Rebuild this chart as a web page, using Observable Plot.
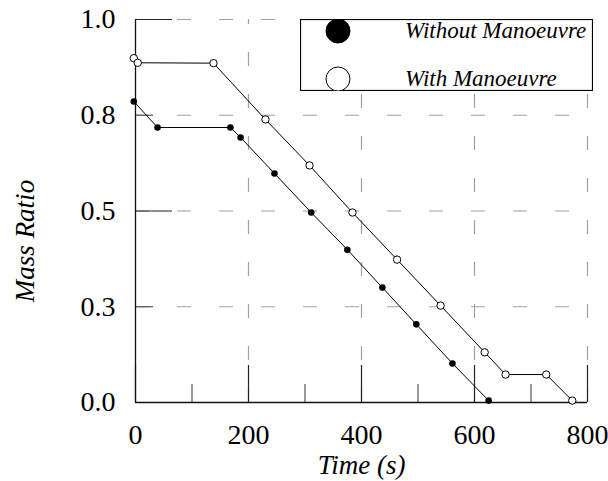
<!DOCTYPE html>
<html><head><meta charset="utf-8">
<script src="https://cdn.jsdelivr.net/npm/d3@7"></script>
<script src="https://cdn.jsdelivr.net/npm/@observablehq/plot@0.6"></script>
<style>
body{margin:0;background:#fff;}
#wrap{position:relative;width:608px;height:481px;}
#legend{position:absolute;left:300px;top:19px;}
</style>
</head><body><div id="wrap"></div>
<script>
// ---- data ----
const seriesNames = ["Without Manoeuvre", "With Manoeuvre"];
const timeWithout = [-3, 39, 168, 186, 246, 311, 375, 437, 497, 561, 625];
const massWithout = [0.786, 0.718, 0.718, 0.692, 0.598, 0.496, 0.399, 0.300, 0.204, 0.102, 0.005];
const timeWith = [-3, 4, 138, 230, 308, 384, 463, 540, 618, 655, 727, 773];
const massWith = [0.899, 0.887, 0.886, 0.739, 0.619, 0.496, 0.373, 0.253, 0.131, 0.073, 0.073, 0.005];

const xDomain = [0, 800];
const yDomain = [0, 1];
const xTickValues = [0, 200, 400, 600, 800];
const xTickLabels = ["0", "200", "400", "600", "800"];
const xMinorTicks = [100, 300, 500, 700];
const yTickValues = [0, 0.25, 0.5, 0.75, 1.0];
const yTickLabels = ["0.0", "0.3", "0.5", "0.8", "1.0"];
const yMajorTicks = [0, 0.5, 1.0];
const yMinorTicks = [0.25, 0.75];
const xGrid = [200, 400, 600, 800];
const yGrid = [0.25, 0.5, 0.75, 1.0];
const xTitle = "Time (s)";
const yTitle = "Mass Ratio";

// ---- build ----
const rowsWithout = timeWithout.map((t, i) => ({t, m: massWithout[i]}));
const rowsWith = timeWith.map((t, i) => ({t, m: massWith[i]}));

const W = 608, H = 481, mL = 135, mR = 21, mT = 19, mB = 79;
const fw = W - mL - mR, fh = H - mT - mB;
const serif = "'Liberation Serif', 'Times New Roman', Times, serif";

const chart = Plot.plot({
  width: W, height: H,
  marginLeft: mL, marginRight: mR, marginTop: mT, marginBottom: mB,
  x: {domain: xDomain},
  y: {domain: yDomain},
  style: {fontFamily: serif, fontSize: "28px", color: "#000", background: "#fff", overflow: "visible"},
  marks: [
    // dashed grid
    Plot.ruleY(yGrid, {y: d => d, x1: () => xDomain[0], x2: () => xDomain[1], stroke: "#a0a0a0", strokeWidth: 1.2, strokeDasharray: "14,28"}),
    Plot.ruleX(xGrid, {x: d => d, y1: () => yDomain[0], y2: () => yDomain[1], stroke: "#a0a0a0", strokeWidth: 1.2, strokeDasharray: "14,28"}),
    // inward ticks
    Plot.ruleX(xTickValues, {x: d => d, insetTop: fh - 37, stroke: "#222", strokeWidth: 1.2}),
    Plot.ruleX(xMinorTicks, {x: d => d, insetTop: fh - 18, stroke: "#555", strokeWidth: 1.2}),
    Plot.ruleY(yMajorTicks, {y: d => d, insetRight: fw - 37, stroke: "#222", strokeWidth: 1.2}),
    Plot.ruleY(yMinorTicks, {y: d => d, insetRight: fw - 18, stroke: "#555", strokeWidth: 1.2}),
    // axis lines
    Plot.ruleX([xDomain[0]], {stroke: "#111", strokeWidth: 1.3}),
    Plot.ruleY([yDomain[0]], {stroke: "#111", strokeWidth: 1.3}),
    // tick labels
    Plot.axisX({ticks: xTickValues, tickSize: 0, tickPadding: 22, label: null,
      tickFormat: d => xTickLabels[xTickValues.indexOf(d)]}),
    Plot.axisY({ticks: yTickValues, tickSize: 0, tickPadding: 20, label: null,
      tickFormat: d => yTickLabels[yTickValues.indexOf(d)]}),
    // titles
    Plot.text([xTitle], {frameAnchor: "bottom", dy: 63, textAnchor: "middle", lineAnchor: "middle", fontStyle: "italic", fontSize: 27}),
    Plot.text([yTitle], {frameAnchor: "left", dx: -110, dy: 30, rotate: -90, textAnchor: "middle", lineAnchor: "middle", fontStyle: "italic", fontSize: 27}),
    // series
    Plot.line(rowsWithout, {x: "t", y: "m", stroke: "#000", strokeWidth: 1}),
    Plot.line(rowsWith, {x: "t", y: "m", stroke: "#000", strokeWidth: 1}),
    Plot.dot(rowsWithout, {x: "t", y: "m", r: 3.3, fill: "#000", stroke: "none"}),
    Plot.dot(rowsWith, {x: "t", y: "m", r: 3.7, fill: "#fff", stroke: "#000", strokeWidth: 1})
  ]
});

const wrap = document.getElementById("wrap");
wrap.appendChild(chart);

// legend box (inside plot area, top right)
const lw = 292, lh = 71;
const leg = d3.select(wrap).append("svg")
  .attr("id", "legend")
  .attr("width", lw + 1).attr("height", lh + 1);
leg.append("rect").attr("x", 0.5).attr("y", 0.5).attr("width", lw).attr("height", lh)
  .attr("fill", "#fff").attr("stroke", "#000").attr("stroke-width", 1.2);
const fills = ["#000", "#fff"];
seriesNames.forEach((name, i) => {
  const cy = i === 0 ? 12 : 60;
  leg.append("circle").attr("cx", 38).attr("cy", cy).attr("r", 12)
    .attr("fill", fills[i]).attr("stroke", "#000").attr("stroke-width", 1);
  leg.append("text").attr("x", 105).attr("y", cy + 7)
    .attr("font-family", serif).attr("font-style", "italic").attr("font-size", 23)
    .attr("fill", "#000").text(name);
});
</script>
</body></html>
